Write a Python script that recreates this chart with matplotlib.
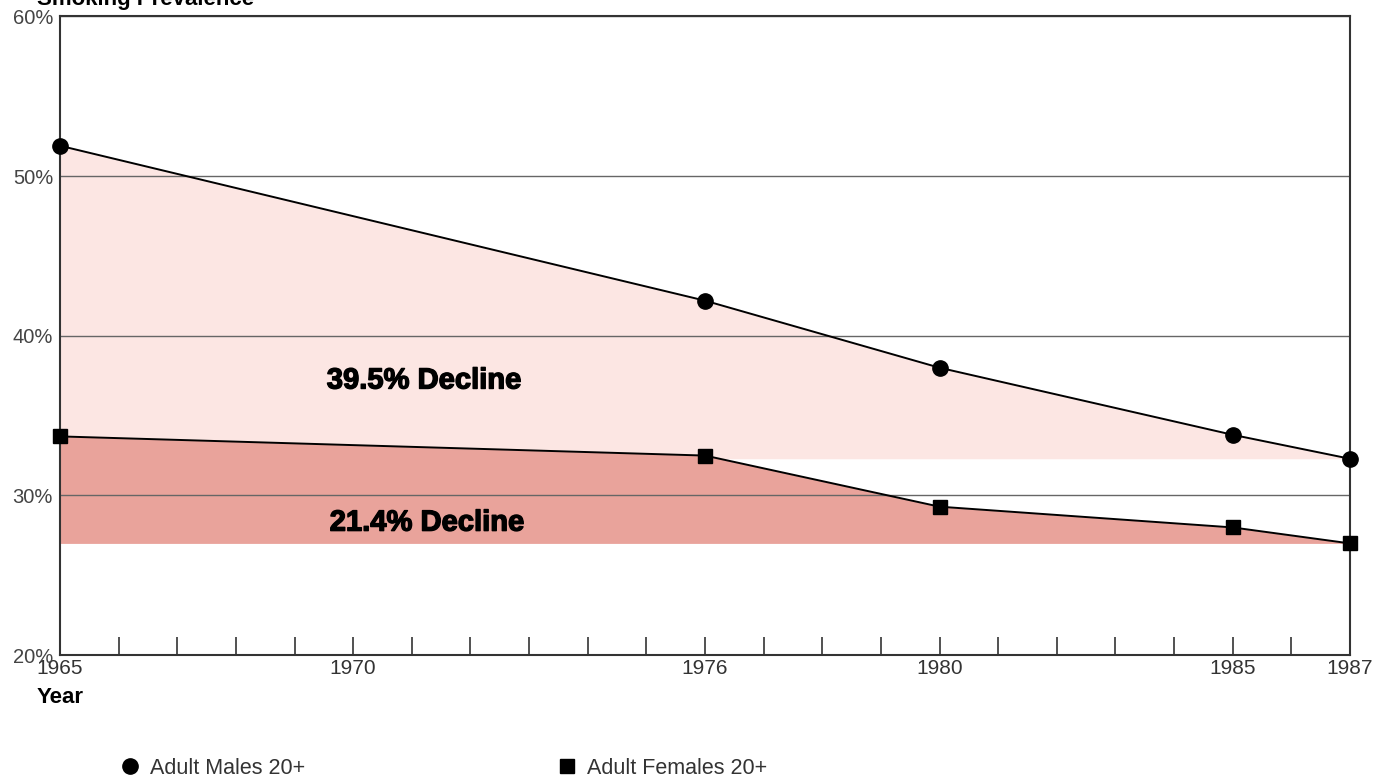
import numpy as np
import matplotlib.pyplot as plt
import matplotlib.patheffects as pe
from matplotlib.lines import Line2D

plt.rcParams['font.family'] = ['Liberation Sans', 'DejaVu Sans']

# --- data ---
years = [1965, 1976, 1980, 1985, 1987]
males = [51.9, 42.2, 38.0, 33.8, 32.3]
females = [33.7, 32.5, 29.3, 28.0, 27.0]
labeled_years = [1965, 1970, 1976, 1980, 1985, 1987]
y_ticks = [20, 30, 40, 50, 60]
male_decline = "39.5% Decline"
female_decline = "21.4% Decline"

fig = plt.figure(figsize=(13.76, 7.8), dpi=100)
ax = fig.add_axes([0.0436, 0.160, 0.9375, 0.819])

# shaded declines: each series filled down to its 1987 level
ax.fill_between(years, males, males[-1], color='#fce6e3', linewidth=0)
ax.fill_between(years, females, females[-1], color='#e9a39b', linewidth=0)

ax.plot(years, males, color='black', lw=1.4, marker='o', ms=11, zorder=3, clip_on=False)
ax.plot(years, females, color='black', lw=1.4, marker='s', ms=9.5, zorder=3, clip_on=False)

# heavy labels (thickened slightly with a stroke)
heavy = [pe.withStroke(linewidth=1.0, foreground='black')]
ax.text(1969.55, 37.2, male_decline, fontsize=21, fontweight='bold', va='center',
        path_effects=heavy)
ax.text(1969.6, 28.3, female_decline, fontsize=21, fontweight='bold', va='center',
        path_effects=heavy)

ax.set_xlim(1965, 1987)
ax.set_ylim(20, 60)

# every year gets an inward tick, only some get a label
all_years = np.arange(1965, 1988)
ax.set_xticks(all_years)
ax.set_xticklabels([str(y) if y in labeled_years else '' for y in all_years])
ax.tick_params(axis='x', direction='in', length=13, width=1.2, color='#333333',
               labelsize=15, labelcolor='#333333', pad=3)
ax.set_yticks(y_ticks)
ax.set_yticklabels([f'{v}%' for v in y_ticks])
ax.tick_params(axis='y', length=0, labelsize=14.5, labelcolor='#444444', pad=5)

ax.yaxis.grid(True, color='#666666', lw=1)
for s in ax.spines.values():
    s.set_color('#333333')
    s.set_linewidth(1.5)

ax.set_xlabel('Year', fontsize=16, fontweight='bold', loc='left', labelpad=2)
ax.xaxis.set_label_coords(-0.018, -0.05)

fig.text(0.027, 0.9936, 'Smoking Prevalence', fontsize=16, fontweight='bold', va='baseline')

handles = [
    Line2D([], [], color='black', marker='o', ls='none', ms=11),
    Line2D([], [], color='black', marker='s', ls='none', ms=9.5),
]
fig.legend(handles, ['Adult Males 20+', 'Adult Females 20+'], ncol=2,
           loc='center left', bbox_to_anchor=(0.068, 0.015), frameon=False,
           fontsize=15.5, columnspacing=11.4, handletextpad=0.1, handlelength=1.6,
           labelcolor='#333333')

fig.savefig('out.png', dpi=100)
